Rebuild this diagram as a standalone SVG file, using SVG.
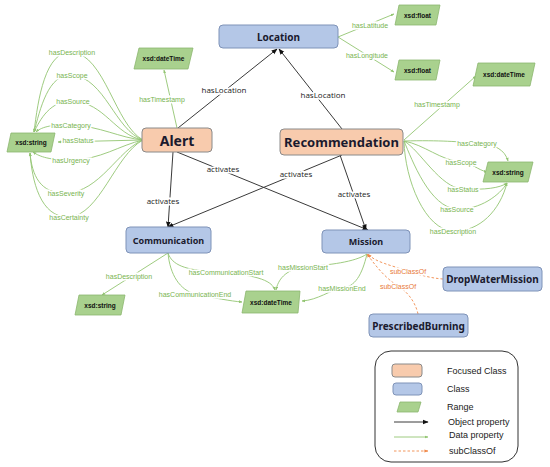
<svg xmlns="http://www.w3.org/2000/svg" width="550" height="467" viewBox="0 0 550 467">
<style>
.fc{fill:#F8CBAD;stroke:#8a8a8a;stroke-width:1}
.cl{fill:#B4C7E7;stroke:#7f93b8;stroke-width:1}
.rg{fill:#A9D18E;stroke:#8cb66f;stroke-width:0.8}
.nl{font-family:"Noto Sans",sans-serif;font-weight:bold;fill:#1a1a2e;text-anchor:middle;dominant-baseline:central}
.rl{font-family:"Liberation Sans",sans-serif;font-size:6.5px;font-weight:bold;fill:#111;text-anchor:middle;dominant-baseline:central}
.dp{fill:none;stroke:#93c572;stroke-width:0.9}
.op{fill:none;stroke:#3a3a3a;stroke-width:1}
.sc{fill:none;stroke:#F08A4B;stroke-width:0.9;stroke-dasharray:2.5,2}
.gl{font-family:"Liberation Sans",sans-serif;font-size:7px;fill:#78b44f;text-anchor:middle;dominant-baseline:central;stroke:#fff;stroke-width:3;paint-order:stroke}
.ol{font-family:"Open Sans",sans-serif;font-size:8px;fill:#222;text-anchor:middle;dominant-baseline:central;stroke:#fff;stroke-width:3;paint-order:stroke}
.sl{font-family:"Liberation Sans",sans-serif;font-size:7px;fill:#E8793A;text-anchor:middle;dominant-baseline:central;stroke:#fff;stroke-width:3;paint-order:stroke}
.lg{font-family:"Liberation Sans",sans-serif;font-size:9px;fill:#222;dominant-baseline:central}
</style>
<defs>
<marker id="ab" viewBox="0 0 10 10" refX="9" refY="5" markerWidth="6" markerHeight="6" orient="auto"><path d="M0,1 L10,5 L0,9 z" fill="#111"/></marker>
<marker id="ag" viewBox="0 0 10 10" refX="9" refY="5" markerWidth="4" markerHeight="4" orient="auto"><path d="M0,1 L10,5 L0,9 z" fill="#93c572"/></marker>
<marker id="ao" viewBox="0 0 10 10" refX="9" refY="5" markerWidth="4.5" markerHeight="4.5" orient="auto"><path d="M0,1 L10,5 L0,9 z" fill="#F08A4B"/></marker>
</defs>

<g id="connectors">
<!-- object properties -->
<path class="op" d="M178,128 L277,49" marker-end="url(#ab)"/>
<path class="op" d="M342,129 L279,49" marker-end="url(#ab)"/>
<path class="op" d="M173,152 L168,227" marker-end="url(#ab)"/>
<path class="op" d="M177,152 L368,230" marker-end="url(#ab)"/>
<path class="op" d="M342,155 L168,227" marker-end="url(#ab)"/>
<path class="op" d="M340,155 L366,230" marker-end="url(#ab)"/>
<!-- Alert data props -->
<path class="dp" d="M177,128 L164,70" marker-end="url(#ag)"/>
<path class="dp" d="M143,140 C 115,125 105,55 72,52 C 45,50 38,100 34,132" marker-end="url(#ag)"/>
<path class="dp" d="M143,140 C 115,130 105,78 72,75 C 48,73 40,110 34,132" marker-end="url(#ag)"/>
<path class="dp" d="M143,140 C 115,135 105,103 73,101 C 50,100 40,120 34,132" marker-end="url(#ag)"/>
<path class="dp" d="M143,140 C 120,138 100,126 71,125 C 50,124 40,128 36,132" marker-end="url(#ag)"/>
<path class="dp" d="M143,140 L 58,142" marker-end="url(#ag)"/>
<path class="dp" d="M143,140 C 120,145 100,160 71,160 C 50,160 40,157 33,152" marker-end="url(#ag)"/>
<path class="dp" d="M143,140 C 118,150 100,192 66,193 C 40,194 32,175 30,153" marker-end="url(#ag)"/>
<path class="dp" d="M143,140 C 115,155 100,215 69,217 C 40,218 32,180 30,153" marker-end="url(#ag)"/>
<!-- Location data props -->
<path class="dp" d="M338,37 L394,14" marker-end="url(#ag)"/>
<path class="dp" d="M338,37 L394,72" marker-end="url(#ag)"/>
<!-- Recommendation data props -->
<path class="dp" d="M404,140 L476,76" marker-end="url(#ag)"/>
<path class="dp" d="M404,141 C 440,140 460,142 477,143 C 495,144 505,150 508,161" marker-end="url(#ag)"/>
<path class="dp" d="M404,141 C 425,145 440,160 461,162 C 472,163 478,170 487,172" marker-end="url(#ag)"/>
<path class="dp" d="M404,141 C 420,150 440,188 463,189 C 485,190 500,188 507,183" marker-end="url(#ag)"/>
<path class="dp" d="M404,141 C 412,160 430,208 457,209 C 480,210 500,195 507,183" marker-end="url(#ag)"/>
<path class="dp" d="M404,141 C 405,180 425,230 453,231 C 480,232 500,210 507,183" marker-end="url(#ag)"/>
<!-- Communication data props -->
<path class="dp" d="M168,253 L102,295" marker-end="url(#ag)"/>
<path class="dp" d="M168,253 C 172,265 185,270 215,272 C 262,275 272,282 275,290" marker-end="url(#ag)"/>
<path class="dp" d="M168,253 C 170,275 180,290 195,294 C 215,298 230,301 242,302" marker-end="url(#ag)"/>
<!-- Mission data props -->
<path class="dp" d="M367,254 C 355,262 330,265 303,267 C 285,270 278,280 276,290" marker-end="url(#ag)"/>
<path class="dp" d="M367,254 C 362,275 355,287 342,288 C 330,290 318,300 302,301" marker-end="url(#ag)"/>
<!-- subClassOf -->
<path class="sc" d="M443,279 C 430,278 420,275 408,271 C 390,265 375,262 368,254" marker-end="url(#ao)"/>
<path class="sc" d="M418,314 C 415,300 405,290 398,286 C 385,278 375,265 367,254" marker-end="url(#ao)"/>

<!-- labels -->
<text class="ol" x="224" y="89">hasLocation</text>
<text class="ol" x="323" y="94">hasLocation</text>
<text class="ol" x="163" y="200">activates</text>
<text class="ol" x="223" y="168">activates</text>
<text class="ol" x="296" y="173">activates</text>
<text class="ol" x="354" y="193">activates</text>
<text class="gl" x="162" y="99">hasTimestamp</text>
<text class="gl" x="72" y="52">hasDescription</text>
<text class="gl" x="72" y="75">hasScope</text>
<text class="gl" x="73" y="101">hasSource</text>
<text class="gl" x="71" y="125">hasCategory</text>
<text class="gl" x="78" y="140">hasStatus</text>
<text class="gl" x="71" y="160">hasUrgency</text>
<text class="gl" x="66" y="193">hasSeverity</text>
<text class="gl" x="69" y="217">hasCertainty</text>
<text class="gl" x="370" y="25">hasLatitude</text>
<text class="gl" x="367" y="55">hasLongitude</text>
<text class="gl" x="437" y="104">hasTimestamp</text>
<text class="gl" x="477" y="143">hasCategory</text>
<text class="gl" x="461" y="162">hasScope</text>
<text class="gl" x="463" y="189">hasStatus</text>
<text class="gl" x="457" y="209">hasSource</text>
<text class="gl" x="453" y="231">hasDescription</text>
<text class="gl" x="129" y="276">hasDescription</text>
<text class="gl" x="226" y="272">hasCommunicationStart</text>
<text class="gl" x="195" y="294">hasCommunicationEnd</text>
<text class="gl" x="303" y="267">hasMissionStart</text>
<text class="gl" x="342" y="288">hasMissionEnd</text>
<text class="sl" x="408" y="271">subClassOf</text>
<text class="sl" x="398" y="286">subClassOf</text>
</g>

<g id="location"><rect class="cl" x="219" y="25" width="119" height="23" rx="4"/><text class="nl" x="278.5" y="36.5" font-size="10">Location</text></g>
<g id="alert"><rect class="fc" x="142" y="128" width="70" height="24" rx="4"/><text class="nl" x="177" y="140" font-size="14">Alert</text></g>
<g id="recommendation"><rect class="fc" x="280" y="129" width="123" height="26" rx="4"/><text class="nl" x="341.5" y="142" font-size="13">Recommendation</text></g>
<g id="communication"><rect class="cl" x="126" y="227" width="85" height="26" rx="4"/><text class="nl" x="168.5" y="240" font-size="9">Communication</text></g>
<g id="mission"><rect class="cl" x="322" y="230" width="88" height="23" rx="4"/><text class="nl" x="366" y="241.5" font-size="9">Mission</text></g>
<g id="dropwatermission"><rect class="cl" x="443" y="267" width="99" height="24" rx="4"/><text class="nl" x="492.5" y="279" font-size="10">DropWaterMission</text></g>
<g id="prescribedburning"><rect class="cl" x="369" y="314" width="99" height="23" rx="4"/><text class="nl" x="418.5" y="325.5" font-size="10">PrescribedBurning</text></g>

<g id="float1"><polygon class="rg" points="399,5 440,5 436,25 395,25"/><text class="rl" x="417.5" y="15">xsd:float</text></g>
<g id="float2"><polygon class="rg" points="399,60 440,60 436,80 395,80"/><text class="rl" x="417.5" y="70">xsd:float</text></g>
<g id="datetime-alert"><polygon class="rg" points="139,48 193,48 188,69 134,69"/><text class="rl" x="163.5" y="58.5">xsd:dateTime</text></g>
<g id="datetime-rec"><polygon class="rg" points="478,63 535,63 530,86 473,86"/><text class="rl" x="504" y="74.5">xsd:dateTime</text></g>
<g id="string-alert"><polygon class="rg" points="11,133 55,133 51,152 7,152"/><text class="rl" x="31" y="142.5">xsd:string</text></g>
<g id="string-rec"><polygon class="rg" points="488,162 533,162 528,182 483,182"/><text class="rl" x="508" y="172">xsd:string</text></g>
<g id="string-comm"><polygon class="rg" points="79,295 125,295 121,315 75,315"/><text class="rl" x="100" y="305">xsd:string</text></g>
<g id="datetime-bottom"><polygon class="rg" points="246,291 300,291 298,313 242,313"/><text class="rl" x="271" y="302">xsd:dateTime</text></g>

<g id="legend">
<rect x="375" y="351" width="143" height="111" rx="16" fill="#fff" stroke="#333" stroke-width="1"/>
<rect class="fc" x="392" y="364" width="30" height="13" rx="3"/>
<text class="lg" x="447" y="371">Focused Class</text>
<rect class="cl" x="393" y="383" width="29" height="12" rx="3"/>
<text class="lg" x="447" y="389">Class</text>
<polygon class="rg" points="400,402 421,402 418,412 397,412"/>
<text class="lg" x="447" y="407">Range</text>
<path class="op" d="M394,422 L428,422" marker-end="url(#ab)"/>
<text class="lg" x="448" y="422">Object property</text>
<path class="dp" d="M394,437 L428,437" marker-end="url(#ag)"/>
<text class="lg" x="449" y="435">Data property</text>
<path class="sc" d="M394,451 L428,451" marker-end="url(#ao)"/>
<text class="lg" x="449" y="451">subClassOf</text>
</g>
</svg>
